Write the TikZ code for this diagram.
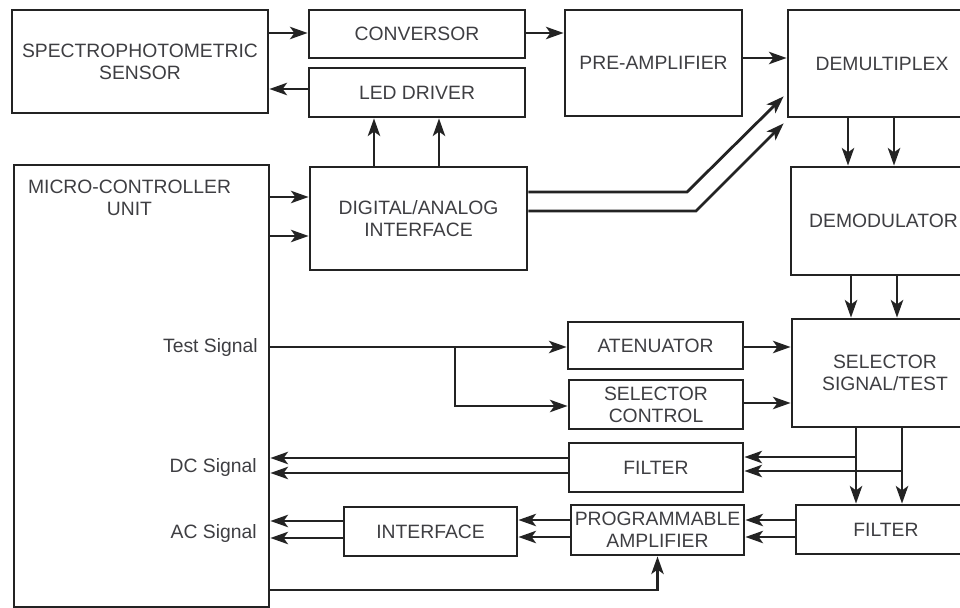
\documentclass[tikz,border=0pt]{standalone}
\usepackage{fontspec}
\setmainfont{Liberation Sans}
\usepackage{tikz}
\usetikzlibrary{arrows.meta, positioning, calc}
\definecolor{linegray}{RGB}{35, 35, 35}
\definecolor{textgray}{RGB}{62, 62, 66}

\begin{document}
\begin{tikzpicture}[
    x=0.02cm, y=-0.02cm,
    block/.style={draw=linegray, line width=1.6pt, inner sep=0pt, align=center,
                  text=textgray, font=\fontsize{11}{12.5}\selectfont},
    boxsize/.style 2 args={minimum width=#1*0.02cm, minimum height=#2*0.02cm},
    signal/.style={anchor=east, inner sep=0pt, align=center, text=textgray,
                   font=\fontsize{11}{12.5}\selectfont},
    link/.style={draw=linegray, line width=1.6pt},
    arr/.style={link, -{Stealth[length=10pt, width=7pt, inset=2.5pt]}}
]
    \clip (0,0) rectangle (960,608);

    % ==================== SENSOR CHAIN ====================
    \node[block, boxsize={256}{103}] (sensor) at (140,61.5) {SPECTROPHOTOMETRIC\\SENSOR};
    \node[block, boxsize={216}{48}] (conv) at (417,34) {CONVERSOR};
    \node[block, boxsize={216}{49}] (led) at (417,92.5) {LED DRIVER};
    \node[block, boxsize={177}{106}] (preamp) at (653.5,63) {PRE-AMPLIFIER};
    \node[block, boxsize={188}{107}] (demux) at (882,63.5) {DEMULTIPLEX};
    \node[block, boxsize={185}{108}] (demod) at (883.5,221) {DEMODULATOR};

    % ==================== CONTROLLER ====================
    \node[block, boxsize={255}{442}] (mcu) at (141.5,386) {};
    \node[signal, anchor=center] (mcutitle) at (129.5,197.5) {MICRO-CONTROLLER\\UNIT};
    \node[signal] (testsig) at (258,348) {Test Signal};
    \node[signal] (dcsig) at (257,467) {DC Signal};
    \node[signal] (acsig) at (257,533) {AC Signal};
    \node[block, boxsize={217}{103}] (da) at (418.5,218.5) {DIGITAL/ANALOG\\INTERFACE};

    % ==================== SIGNAL PATH ====================
    \node[block, boxsize={175}{47}] (aten) at (655.5,345.5) {ATENUATOR};
    \node[block, boxsize={174}{49}] (selctl) at (656,404.5) {SELECTOR\\CONTROL};
    \node[block, boxsize={186}{108}] (sst) at (885,373) {SELECTOR\\SIGNAL/TEST};
    \node[block, boxsize={174}{49}] (filt1) at (656,467.5) {FILTER};
    \node[block, boxsize={180}{49}] (filt2) at (886,529.5) {FILTER};
    \node[block, boxsize={173}{50}] (progamp) at (657.5,530) {PROGRAMMABLE\\AMPLIFIER};
    \node[block, boxsize={173}{49}] (iface) at (430.5,531.5) {INTERFACE};

    \coordinate (testtap) at (455,347);
    \coordinate (dctap1) at (856,457);
    \coordinate (dctap2) at (902,471);
    \coordinate (bend1) at (687,192);
    \coordinate (bend2) at (696,211);

    % ==================== CONNECTIONS ====================
    % Sensor relationships
    \draw[arr] (sensor.east |- 0,33) -- (conv.west |- 0,33);
    \draw[arr] (led.west |- 0,89) -- (sensor.east |- 0,89);
    \draw[arr] (conv.east |- 0,33) -- (preamp.west |- 0,33);
    \draw[arr] (preamp.east |- 0,58) -- (demux.west |- 0,58);
    \draw[arr] (demux.south -| 848,0) -- (demod.north -| 848,0);
    \draw[arr] (demux.south -| 894,0) -- (demod.north -| 894,0);
    \draw[arr] (demod.south -| 851,0) -- (sst.north -| 851,0);
    \draw[arr] (demod.south -| 897,0) -- (sst.north -| 897,0);

    % Interface relationships
    \draw[arr] (da.north -| 374,0) -- (led.south -| 374,0);
    \draw[arr] (da.north -| 439,0) -- (led.south -| 439,0);
    \draw[arr] (mcu.east |- 0,197) -- (da.west |- 0,197);
    \draw[arr] (mcu.east |- 0,236) -- (da.west |- 0,236);
    \draw[arr] (da.east |- bend1) -- (bend1) -- ($(demux.south west)+(-3,-22)$);
    \draw[arr] (da.east |- bend2) -- (bend2) -- ($(demux.south west)+(-3,5)$);

    % Test signal relationships
    \draw[arr] (mcu.east |- testtap) -- (aten.west |- testtap);
    \draw[arr] (testtap) |- (selctl.west |- 0,406);
    \draw[arr] (aten.east |- testtap) -- (sst.west |- testtap);
    \draw[arr] (selctl.east |- 0,403) -- (sst.west |- 0,403);

    % Output relationships
    \draw[arr] (sst.south -| dctap1) -- (filt2.north -| dctap1);
    \draw[arr] (sst.south -| dctap2) -- (filt2.north -| dctap2);
    \draw[arr] (dctap1) -- (filt1.east |- dctap1);
    \draw[arr] (dctap2) -- (filt1.east |- dctap2);
    \draw[arr] (filt1.west |- 0,458) -- (mcu.east |- 0,458);
    \draw[arr] (filt1.west |- 0,473) -- (mcu.east |- 0,473);
    \draw[arr] (filt2.west |- 0,520) -- (progamp.east |- 0,520);
    \draw[arr] (filt2.west |- 0,537) -- (progamp.east |- 0,537);
    \draw[arr] (progamp.west |- 0,520) -- (iface.east |- 0,520);
    \draw[arr] (progamp.west |- 0,537) -- (iface.east |- 0,537);
    \draw[arr] (iface.west |- 0,521) -- (mcu.east |- 0,521);
    \draw[arr] (iface.west |- 0,538) -- (mcu.east |- 0,538);
    \draw[arr] (mcu.east |- 0,590) -| (progamp.south);
\end{tikzpicture}
\end{document}
